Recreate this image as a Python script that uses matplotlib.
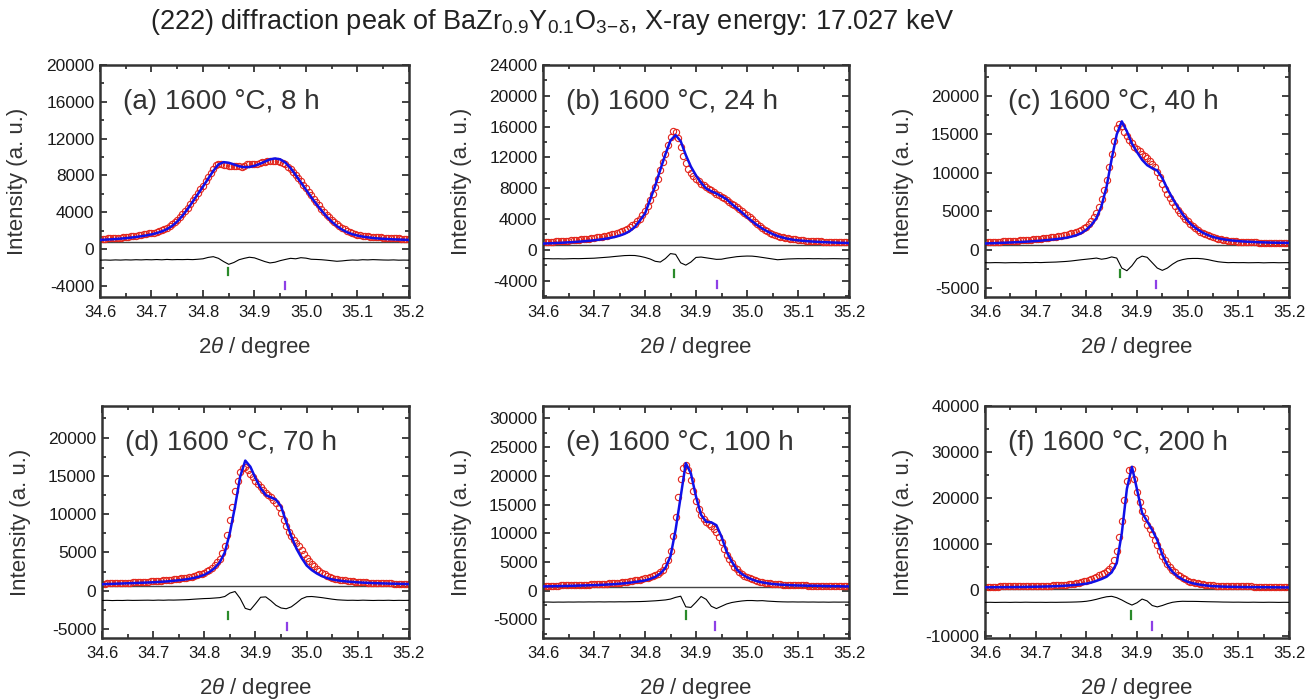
import numpy as np
import matplotlib.pyplot as plt
from matplotlib.ticker import MultipleLocator, FormatStrFormatter

plt.rcParams['font.family'] = ['Liberation Sans', 'DejaVu Sans']
plt.rcParams['mathtext.fontset'] = 'custom'
plt.rcParams['mathtext.rm'] = 'Liberation Sans'
plt.rcParams['mathtext.it'] = 'Liberation Sans:italic'
plt.rcParams['mathtext.default'] = 'regular'
plt.rcParams['axes.unicode_minus'] = False

# scan steps: observed every 0.005 deg, calculated / difference every 0.01 deg
tth_obs = np.round(np.linspace(34.6, 35.2, 121), 3)
tth_calc = np.round(np.linspace(34.6, 35.2, 61), 2)

# (a) 8 h
obs_a = [1120, 1150, 1140, 1180, 1170, 1210, 1220, 1250, 1260, 1300,
         1320, 1360, 1380, 1430, 1460, 1510, 1550, 1610, 1650, 1710,
         1750, 1800, 1880, 1960, 2060, 2180, 2320, 2480, 2680, 2900,
         3150, 3450, 3780, 4120, 4500, 4900, 5300, 5700, 6100, 6500,
         6900, 7350, 7800, 8300, 8750, 9150, 9300, 9250, 9150, 9100,
         9050, 9000, 9000, 9050, 9000, 8950, 9050, 9200, 9300, 9250,
         9200, 9300, 9350, 9450, 9500, 9550, 9600, 9600, 9600, 9550,
         9450, 9350, 9200, 8950, 8700, 8400, 8100, 7750, 7400, 7000,
         6650, 6250, 5850, 5450, 5100, 4750, 4400, 4050, 3750, 3450,
         3180, 2930, 2700, 2500, 2320, 2150, 2010, 1880, 1780, 1690,
         1580, 1520, 1470, 1430, 1400, 1370, 1340, 1310, 1290, 1270,
         1250, 1230, 1210, 1200, 1180, 1170, 1160, 1150, 1140, 1130,
         1120]
calc_a = [1000, 1030, 1060, 1100, 1140, 1190, 1250, 1320, 1400, 1490,
          1600, 1740, 1920, 2170, 2520, 3000, 3620, 4350, 5150, 5980,
          6800, 7650, 8500, 9200, 9450, 9380, 9200, 9000, 8900, 8920,
          9050, 9250, 9500, 9750, 9850, 9750, 9400, 8800, 8050, 7250,
          6450, 5650, 4900, 4200, 3550, 2980, 2500, 2120, 1830, 1620,
          1470, 1360, 1280, 1210, 1160, 1120, 1090, 1060, 1040, 1020,
          1000]
diff_a = [-1200, -1180, -1200, -1170, -1190, -1160, -1180, -1150, -1170, -1140,
          -1160, -1130, -1160, -1120, -1150, -1130, -1140, -1120, -1140, -1100,
          -1050, -900, -820, -1000, -1350, -1650, -1450, -1150, -1000, -880,
          -950, -1150, -1350, -1500, -1420, -1250, -1120, -1000, -1050, -930,
          -980, -1100, -1120, -1150, -1200, -1260, -1320, -1280, -1220, -1180,
          -1200, -1150, -1170, -1140, -1160, -1180, -1190, -1170, -1200, -1190,
          -1200]

# (b) 24 h
obs_b = [1000, 1020, 1030, 1060, 1070, 1090, 1110, 1130, 1150, 1170,
         1200, 1220, 1250, 1280, 1310, 1340, 1380, 1410, 1450, 1500,
         1540, 1590, 1640, 1700, 1760, 1830, 1910, 2000, 2100, 2200,
         2300, 2430, 2580, 2750, 2950, 3150, 3400, 3700, 4050, 4500,
         5000, 5700, 6500, 7300, 8200, 9200, 10300, 11400, 12500, 13600,
         14700, 15400, 15300, 14500, 13300, 12200, 11300, 10500, 10000, 9600,
         9250, 8900, 8600, 8350, 8100, 7900, 7700, 7500, 7300, 7100,
         6900, 6700, 6480, 6250, 6000, 5800, 5600, 5350, 5080, 4800,
         4520, 4230, 3940, 3650, 3370, 3100, 2850, 2620, 2400, 2200,
         2020, 1860, 1720, 1650, 1590, 1540, 1500, 1440, 1390, 1340,
         1300, 1260, 1230, 1200, 1180, 1150, 1130, 1110, 1100, 1080,
         1070, 1060, 1050, 1040, 1030, 1020, 1010, 1000, 990, 990,
         980]
calc_b = [800, 830, 860, 890, 920, 960, 1000, 1050, 1100, 1160,
          1230, 1310, 1400, 1510, 1650, 1830, 2070, 2420, 2950, 3800,
          4700, 6500, 8300, 10400, 12400, 14200, 14900, 14100, 12300, 10800,
          9650, 8700, 7950, 7600, 7300, 6950, 6550, 5950, 5400, 4850,
          4250, 3700, 3200, 2750, 2380, 2050, 1780, 1580, 1420, 1300,
          1220, 1160, 1100, 1060, 1020, 990, 960, 930, 910, 890,
          870]
diff_b = [-1170, -1160, -1180, -1170, -1190, -1170, -1150, -1160, -1140, -1120,
          -1100, -1050, -1000, -950, -880, -820, -760, -740, -750, -850,
          -1000, -1200, -1500, -1600, -1150, -500, -600, -1700, -2000, -1600,
          -1000, -950, -1050, -1150, -1250, -1230, -1100, -1000, -900, -850,
          -820, -830, -900, -1000, -1100, -1200, -1300, -1250, -1200, -1180,
          -1160, -1170, -1150, -1170, -1160, -1180, -1170, -1160, -1170, -1180,
          -1170]

# (c) 40 h
obs_c = [950, 970, 980, 1000, 1010, 1030, 1040, 1060, 1080, 1100,
         1110, 1130, 1150, 1170, 1200, 1220, 1250, 1270, 1300, 1330,
         1360, 1390, 1420, 1460, 1500, 1540, 1580, 1630, 1680, 1740,
         1800, 1870, 1940, 2020, 2100, 2200, 2320, 2450, 2600, 2780,
         3000, 3300, 3700, 4200, 4800, 5600, 6600, 7800, 9100, 10700,
         12400, 14200, 15800, 16300, 16100, 15300, 14800, 14300, 13900, 13400,
         13100, 12800, 12450, 12200, 11950, 11600, 11200, 10700, 10100, 9400,
         8600, 7900, 7300, 6700, 6150, 5650, 5200, 4800, 4400, 4050,
         3700, 3350, 3050, 2800, 2550, 2350, 2150, 2000, 1850, 1720,
         1600, 1500, 1420, 1350, 1280, 1230, 1180, 1140, 1100, 1070,
         1040, 1020, 1000, 980, 960, 950, 940, 930, 920, 910,
         900, 900, 890, 880, 880, 870, 870, 860, 860, 850,
         850]
calc_c = [800, 830, 850, 880, 900, 930, 960, 990, 1030, 1070,
          1120, 1170, 1230, 1290, 1360, 1440, 1540, 1680, 1870, 2150,
          2600, 3200, 4100, 5700, 8200, 11800, 15000, 16700, 15400, 13800,
          12700, 11700, 11000, 10600, 10300, 9300, 7900, 6700, 5600, 4600,
          3750, 3100, 2600, 2200, 1900, 1650, 1480, 1350, 1250, 1170,
          1110, 1060, 1020, 990, 960, 940, 920, 900, 890, 880,
          870]
diff_c = [-1700, -1710, -1690, -1700, -1720, -1700, -1690, -1710, -1680, -1700,
          -1670, -1690, -1660, -1640, -1620, -1580, -1540, -1480, -1400, -1320,
          -1250, -1180, -1100, -1250, -1150, -950, -1100, -2400, -2750, -2100,
          -1200, -850, -1000, -1700, -2400, -2700, -2400, -1900, -1500, -1300,
          -1180, -1150, -1150, -1200, -1300, -1450, -1580, -1650, -1700, -1680,
          -1700, -1690, -1710, -1700, -1690, -1720, -1700, -1690, -1710, -1700,
          -1700]

# (d) 70 h
obs_d = [930, 940, 950, 960, 970, 980, 990, 1000, 1020, 1030,
         1050, 1070, 1080, 1100, 1120, 1130, 1150, 1170, 1200, 1220,
         1250, 1280, 1300, 1330, 1360, 1390, 1420, 1450, 1490, 1530,
         1570, 1620, 1670, 1730, 1790, 1860, 1940, 2030, 2130, 2250,
         2380, 2550, 2750, 3000, 3300, 3700, 4200, 4900, 5900, 7300,
         9200, 11000, 13000, 14400, 15500, 16000, 16100, 15800, 15300, 14800,
         14300, 13900, 13500, 13200, 12800, 12500, 12200, 11900, 11500, 10900,
         10100, 9200, 8400, 7700, 7100, 6600, 6200, 5800, 5300, 4800,
         4300, 3900, 3550, 3200, 2900, 2600, 2350, 2150, 1980, 1820,
         1700, 1600, 1520, 1450, 1390, 1340, 1290, 1250, 1210, 1180,
         1150, 1120, 1100, 1080, 1060, 1040, 1030, 1010, 1000, 990,
         980, 970, 960, 950, 940, 930, 930, 920, 910, 910,
         900]
calc_d = [850, 880, 900, 930, 950, 980, 1000, 1030, 1050, 1080,
          1110, 1150, 1190, 1240, 1300, 1370, 1450, 1550, 1680, 1850,
          2080, 2450, 2950, 3700, 5000, 7600, 11000, 14900, 17000, 16200,
          14700, 13400, 12500, 12200, 11900, 11000, 9000, 7100, 5500, 4300,
          3300, 2700, 2250, 1900, 1650, 1480, 1360, 1270, 1200, 1150,
          1100, 1060, 1030, 1000, 980, 960, 940, 920, 900, 890,
          870]
diff_d = [-1270, -1250, -1280, -1260, -1270, -1240, -1260, -1250, -1240, -1230,
          -1250, -1220, -1240, -1210, -1220, -1200, -1180, -1150, -1100, -1060,
          -1020, -1000, -950, -900, -750, -300, -100, -1000, -2300, -2500,
          -1700, -850, -800, -1300, -1900, -2250, -2350, -2100, -1600, -1050,
          -780, -750, -820, -900, -1000, -1100, -1180, -1220, -1250, -1240,
          -1260, -1230, -1250, -1270, -1250, -1260, -1240, -1270, -1250, -1260,
          -1250]

# (e) 100 h
obs_e = [850, 860, 870, 880, 890, 900, 910, 920, 930, 950,
         960, 970, 990, 1000, 1020, 1030, 1050, 1060, 1080, 1100,
         1120, 1140, 1160, 1190, 1220, 1250, 1280, 1310, 1350, 1390,
         1430, 1480, 1530, 1590, 1650, 1720, 1790, 1870, 1950, 2040,
         2140, 2250, 2380, 2540, 2730, 2950, 3250, 3650, 4300, 5300,
         7000, 9500, 12800, 16300, 19500, 21300, 21900, 21000, 19200, 17300,
         15600, 14200, 13200, 12500, 12000, 11600, 11200, 10800, 10200, 9400,
         8400, 7300, 6300, 5500, 4800, 4200, 3700, 3300, 2950, 2650,
         2400, 2180, 1990, 1830, 1700, 1580, 1480, 1400, 1330, 1270,
         1220, 1170, 1130, 1100, 1070, 1040, 1020, 1000, 980, 960,
         950, 940, 930, 920, 910, 900, 890, 880, 880, 870,
         860, 860, 850, 850, 840, 840, 830, 830, 820, 820,
         810]
calc_e = [750, 770, 790, 810, 830, 850, 870, 900, 920, 950,
          980, 1010, 1050, 1100, 1150, 1220, 1300, 1400, 1520, 1650,
          1800, 2050, 2400, 3000, 3950, 6000, 10600, 16400, 22200, 20400,
          16400, 13200, 12000, 11900, 11400, 9400, 6800, 5100, 3700, 2900,
          2350, 1950, 1650, 1450, 1300, 1180, 1100, 1040, 990, 950,
          920, 900, 880, 860, 840, 820, 800, 790, 780, 760,
          750]
diff_e = [-1980, -1960, -1990, -1970, -1980, -1960, -1970, -1950, -1960, -1940,
          -1950, -1930, -1950, -1930, -1940, -1920, -1930, -1910, -1900, -1880,
          -1850, -1800, -1750, -1680, -1600, -1450, -1150, -950, -2800, -2900,
          -2000, -1000, -1500, -2700, -3100, -2700, -2300, -2050, -1900, -1780,
          -1700, -1700, -1750, -1720, -1800, -1850, -1900, -1930, -1950, -1940,
          -1960, -1950, -1970, -1960, -1980, -1970, -1990, -1970, -1980, -1970,
          -1980]

# (f) 200 h
obs_f = [800, 805, 810, 815, 820, 825, 830, 835, 840, 850,
         855, 860, 865, 870, 875, 880, 885, 890, 895, 900,
         920, 940, 960, 980, 1000, 1020, 1040, 1060, 1080, 1090,
         1100, 1150, 1220, 1300, 1380, 1470, 1570, 1680, 1800, 1930,
         2080, 2250, 2450, 2680, 2950, 3250, 3550, 3850, 4200, 4650,
         5300, 6500, 8500, 11500, 15000, 19500, 23800, 26200, 26300, 24200,
         21400, 19100, 17200, 15600, 14200, 13200, 12200, 11000, 9800, 8600,
         7500, 6500, 5700, 5000, 4400, 3900, 3400, 3000, 2650, 2350,
         2100, 1900, 1740, 1600, 1480, 1380, 1300, 1230, 1170, 1120,
         1070, 1030, 1000, 970, 950, 930, 910, 900, 890, 880,
         870, 860, 850, 840, 830, 830, 820, 810, 810, 800,
         800, 790, 790, 780, 780, 770, 770, 760, 760, 750,
         750]
calc_f = [650, 660, 670, 680, 690, 700, 710, 720, 740, 760,
          780, 800, 830, 860, 900, 950, 1010, 1090, 1180, 1300,
          1450, 1700, 2050, 2450, 2950, 3900, 5900, 12400, 22000, 26800,
          21900, 16800, 15000, 13100, 10900, 7700, 5500, 4000, 3050, 2350,
          1850, 1520, 1300, 1130, 1000, 900, 850, 800, 770, 750,
          730, 710, 700, 690, 680, 670, 660, 650, 640, 630,
          620]
diff_f = [-2620, -2600, -2630, -2610, -2600, -2620, -2590, -2610, -2580, -2600,
          -2610, -2600, -2620, -2600, -2610, -2590, -2580, -2560, -2530, -2480,
          -2380, -2200, -1950, -1650, -1400, -1300, -1600, -2100, -2700, -3200,
          -2700, -1900, -2300, -3300, -3600, -3300, -2900, -2600, -2450, -2380,
          -2400, -2400, -2420, -2450, -2480, -2500, -2520, -2550, -2560, -2580,
          -2570, -2590, -2600, -2580, -2600, -2610, -2590, -2600, -2620, -2600,
          -2610]

panel_labels = ['(a) 1600 °C, 8 h', '(b) 1600 °C, 24 h', '(c) 1600 °C, 40 h',
                '(d) 1600 °C, 70 h', '(e) 1600 °C, 100 h', '(f) 1600 °C, 200 h']
obs_all = [obs_a, obs_b, obs_c, obs_d, obs_e, obs_f]
calc_all = [calc_a, calc_b, calc_c, calc_d, calc_e, calc_f]
diff_all = [diff_a, diff_b, diff_c, diff_d, diff_e, diff_f]
zero_level = [720, 650, 650, 570, 580, 290]
bragg_cubic = [34.848, 34.857, 34.867, 34.846, 34.880, 34.889]
bragg_second = [34.960, 34.941, 34.937, 34.961, 34.937, 34.930]
y_limits = [(-5200, 20000), (-6140, 24000), (-6170, 24040),
            (-6170, 24130), (-8220, 32140), (-10350, 40000)]
y_steps = [4000, 4000, 5000, 5000, 5000, 10000]

W, H = 1314, 700
# axes boxes in pixels: left, top, right, bottom
boxes = [(100, 65, 409, 297), (543, 65, 849, 297), (985, 65, 1289, 297),
         (102, 406, 409, 638), (543, 406, 849, 638), (985, 406, 1289, 638)]
# vertical extent of the reflection markers (fraction of axes height)
tick_green = [(0.095, 0.125), (0.085, 0.115), (0.085, 0.115),
              (0.08, 0.11), (0.08, 0.115), (0.08, 0.115)]
tick_purple = [(0.035, 0.065), (0.04, 0.07), (0.04, 0.07),
               (0.035, 0.065), (0.035, 0.07), (0.035, 0.07)]

fig = plt.figure(figsize=(W / 100, H / 100), dpi=100)

for i in range(6):
    l, t, r, b = boxes[i]
    ax = fig.add_axes([l / W, 1 - b / H, (r - l) / W, (b - t) / H])
    ax.axhline(zero_level[i], color='#444444', lw=1.0, zorder=1)
    ax.plot(tth_obs, obs_all[i], 'o', mfc='none', mec='#e3261c', ms=4.5,
            mew=0.8, zorder=2)
    ax.plot(tth_calc, calc_all[i], color='#1010e8', lw=1.8, zorder=3)
    ax.plot(tth_calc, diff_all[i], color='black', lw=0.8, zorder=3)
    ax.axvline(bragg_cubic[i], ymin=tick_green[i][0], ymax=tick_green[i][1],
               color='#2a8a2a', lw=1.6)
    ax.axvline(bragg_second[i], ymin=tick_purple[i][0], ymax=tick_purple[i][1],
               color='#8d3fe6', lw=1.6)

    ax.set_xlim(34.6, 35.2)
    ax.set_ylim(*y_limits[i])
    ax.xaxis.set_major_locator(MultipleLocator(0.1))
    ax.xaxis.set_minor_locator(MultipleLocator(0.05))
    ax.yaxis.set_major_locator(MultipleLocator(y_steps[i]))
    ax.yaxis.set_minor_locator(MultipleLocator(y_steps[i] / 2))
    ax.xaxis.set_major_formatter(FormatStrFormatter('%.1f'))
    ax.yaxis.set_major_formatter(FormatStrFormatter('%d'))
    ax.tick_params(which='both', direction='in', top=True, right=True,
                   width=1.2, color='#222222')
    ax.tick_params(which='major', length=5)
    ax.tick_params(which='minor', length=3)
    ax.tick_params(axis='x', labelsize=12, pad=6, labelcolor='#1a1a1a')
    ax.tick_params(axis='y', labelsize=12.5, pad=4, labelcolor='#1a1a1a')
    for sp in ax.spines.values():
        sp.set_linewidth(1.8)
        sp.set_color('#333333')

    ax.set_xlabel(r'2$\mathit{\theta}$ / degree', fontsize=16, color='#333333')
    ax.set_ylabel('Intensity (a. u.)', fontsize=16, color='#333333')
    ax.xaxis.set_label_coords(0.5, -0.165)
    ax.yaxis.set_label_coords(-0.232, 0.5)
    ax.text(0.075, 0.84, panel_labels[i], transform=ax.transAxes,
            fontsize=20, color='#333333', va='center', ha='left')

fig.text(150 / W, 1 - 22 / H,
         r'(222) diffraction peak of BaZr$_{0.9}$Y$_{0.1}$O$_{3\!-\!\delta}$, '
         'X-ray energy: 17.027 keV',
         fontsize=19.5, color='#222222', va='center', ha='left')

fig.savefig('out.png', dpi=100)
